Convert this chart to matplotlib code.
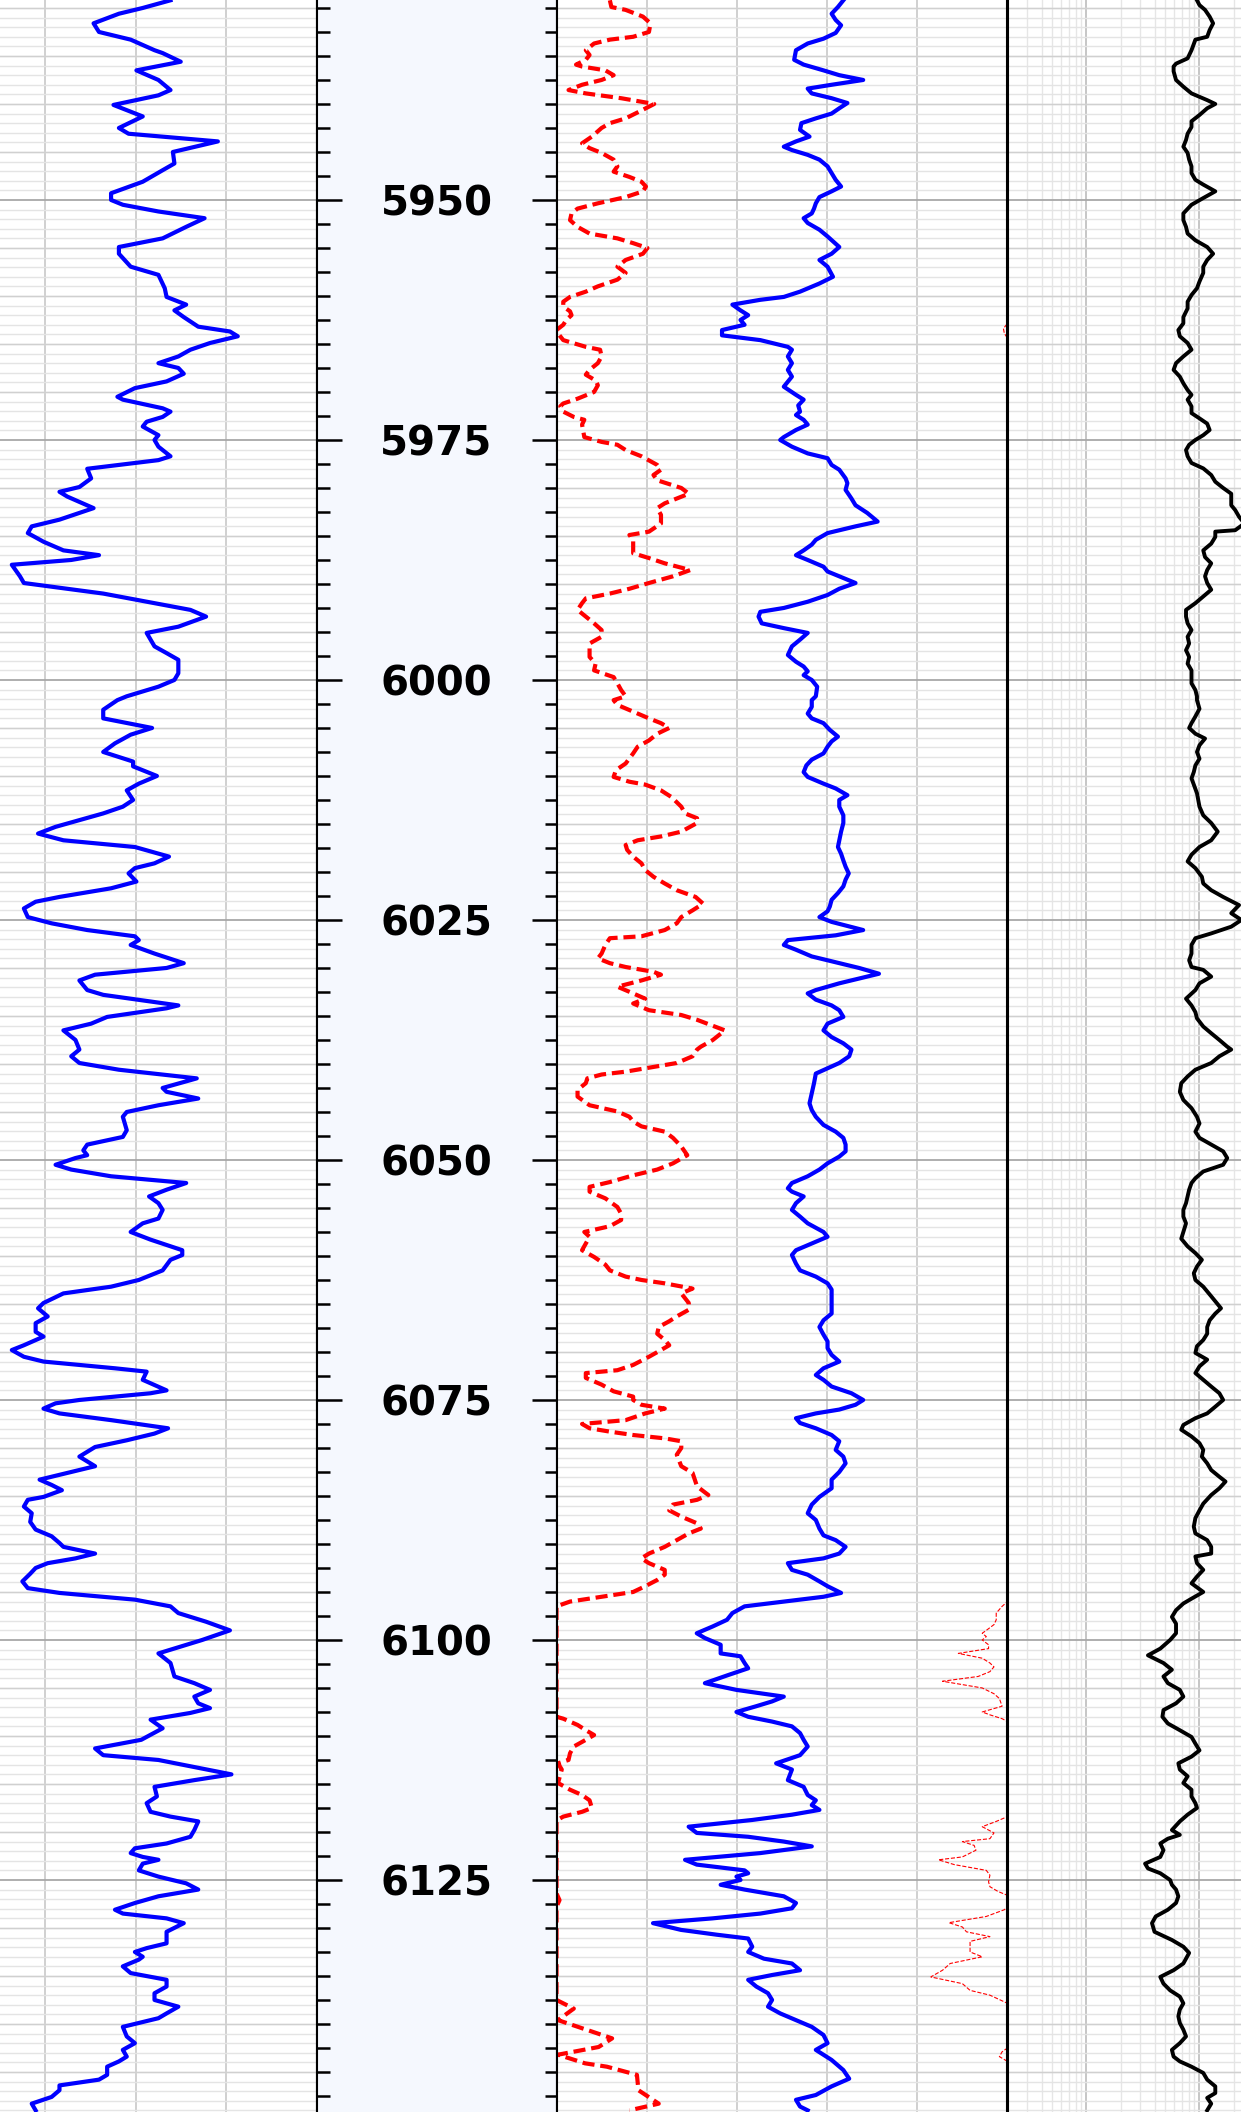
import numpy as np
import matplotlib
matplotlib.use("Agg")
import matplotlib.pyplot as plt
from matplotlib.ticker import MultipleLocator

# depth window shown in the picture
top_depth = 5929.17
base_depth = 6149.17
depth_labels = [5950, 5975, 6000, 6025, 6050, 6075, 6100, 6125]

# (depth, GR) - track 1
gr_log = [
    (5929.2, 101.6), (5930.0, 92.4), (5930.6, 84.5), (5931.6, 76.1), (5932.5, 77.9), (5933.3, 88.4),
    (5934.4, 96.3), (5934.7, 99.0), (5935.6, 105.0), (5936.5, 90.3), (5937.5, 97.6), (5938.55, 101.6),
    (5939.1, 97.6), (5940.1, 82.7), (5941.3, 92.4), (5942.5, 84.5), (5943.1, 87.7), (5943.9, 117.3),
    (5945.0, 102.4), (5946.2, 102.9), (5946.9, 99.0), (5948.1, 92.4), (5949.3, 81.9), (5950.0, 81.9),
    (5950.5, 85.8), (5951.2, 97.6), (5951.9, 112.9), (5952.8, 106.8), (5954.0, 99.0), (5954.9, 84.5),
    (5955.6, 84.5), (5956.95, 88.4), (5957.8, 97.6), (5959.2, 99.7), (5960.1, 100.3), (5960.9, 106.8),
    (5961.5, 102.9), (5962.2, 106.0), (5963.2, 110.8), (5963.7, 121.3), (5964.2, 123.9), (5964.9, 114.7),
    (5965.6, 108.2), (5966.3, 104.2), (5967.0, 97.6), (5967.5, 104.2), (5968.1, 106.0), (5968.9, 100.3),
    (5969.6, 89.8), (5970.5, 84.0), (5970.8, 85.8), (5971.7, 99.0), (5972.05, 101.6), (5972.6, 99.0),
    (5973.1, 93.7), (5973.6, 92.4), (5974.5, 97.6), (5975.0, 96.3), (5975.7, 97.6), (5976.7, 101.6),
    (5977.1, 97.6), (5978.0, 74.0), (5979.0, 75.3), (5979.9, 71.4), (5980.4, 64.8), (5980.9, 67.4),
    (5982.1, 76.1), (5982.6, 71.4), (5983.3, 64.8), (5984.0, 55.6), (5984.7, 54.3), (5985.6, 59.5),
    (5986.5, 66.1), (5987.0, 77.9), (5987.5, 68.7), (5988.0, 49.0), (5989.2, 51.7), (5989.9, 53.0),
    (5991.0, 79.3), (5992.0, 96.3), (5992.7, 108.2), (5993.4, 113.4), (5994.45, 104.2), (5995.1, 93.7),
    (5995.8, 95.0), (5996.5, 96.3), (5997.2, 100.3), (5997.9, 104.2), (5999.3, 104.2), (6000.0, 102.9),
    (6000.7, 97.6), (6001.7, 87.1), (6002.1, 84.0), (6003.1, 79.3), (6004.0, 79.3), (6005.0, 95.5),
    (6005.7, 88.4), (6006.6, 83.2), (6007.5, 79.3), (6008.5, 89.2), (6009.0, 89.2), (6010.0, 97.1),
    (6010.8, 91.1), (6011.5, 87.1), (6012.5, 89.2), (6013.2, 85.8), (6013.9, 79.3), (6014.6, 71.4),
    (6015.3, 63.5), (6016.0, 57.7), (6016.7, 66.1), (6017.4, 89.8), (6018.4, 101.1), (6019.1, 96.3),
    (6019.6, 89.8), (6020.15, 87.7), (6021.0, 90.3), (6021.7, 81.9), (6022.6, 64.8), (6023.1, 56.9),
    (6023.8, 53.0), (6024.7, 54.3), (6025.35, 62.2), (6026.05, 74.0), (6026.7, 89.8), (6027.1, 91.1),
    (6027.6, 88.4), (6028.5, 96.3), (6029.5, 106.0), (6030.0, 100.3), (6030.7, 76.6), (6031.3, 71.4),
    (6032.3, 74.0), (6032.8, 79.3), (6033.9, 104.2), (6034.2, 100.3), (6035.1, 80.6), (6035.8, 75.3),
    (6036.5, 66.1), (6037.5, 70.1), (6038.5, 71.4), (6039.2, 68.7), (6039.9, 71.4), (6040.6, 84.5),
    (6041.5, 110.3), (6042.5, 99.0), (6042.9, 100.3), (6043.6, 110.8), (6044.3, 97.6), (6045.0, 87.1),
    (6045.5, 85.8), (6046.9, 87.1), (6047.6, 85.8), (6048.4, 74.0), (6049.0, 72.7), (6049.5, 74.0),
    (6049.8, 70.1), (6050.5, 63.5), (6051.0, 68.7), (6051.7, 81.9), (6052.4, 106.8), (6053.1, 100.3),
    (6053.8, 94.5), (6054.5, 97.6), (6055.2, 99.0), (6056.1, 97.6), (6056.6, 92.4), (6057.5, 88.4),
    (6058.3, 95.0), (6059.4, 105.5), (6059.9, 105.5), (6060.4, 101.6), (6061.5, 99.0), (6062.5, 91.1),
    (6063.2, 81.9), (6063.9, 66.1), (6064.9, 59.5), (6065.45, 57.7), (6066.3, 60.9), (6067.0, 56.9),
    (6067.9, 56.9), (6068.4, 59.5), (6069.3, 53.0), (6069.8, 49.0), (6070.5, 53.0), (6071.0, 59.5),
    (6071.7, 83.2), (6072.05, 93.7), (6072.9, 92.4), (6074.0, 100.3), (6074.3, 95.0), (6075.0, 71.4),
    (6075.35, 63.5), (6075.9, 59.5), (6076.4, 64.8), (6077.1, 81.9), (6077.95, 100.8), (6078.5, 96.3),
    (6079.2, 87.1), (6079.9, 76.6), (6080.9, 71.4), (6081.4, 74.0), (6081.9, 76.6), (6082.5, 68.7),
    (6083.3, 58.2), (6083.85, 62.2), (6084.4, 65.6), (6085.1, 59.5), (6085.4, 54.3), (6086.1, 53.0),
    (6086.8, 55.6), (6087.7, 55.1), (6088.5, 56.9), (6089.2, 62.2), (6089.9, 64.8), (6090.3, 66.1),
    (6091.0, 76.6), (6091.5, 70.1), (6092.0, 60.9), (6092.5, 56.9), (6093.1, 55.1), (6093.9, 52.5),
    (6094.6, 54.3), (6095.1, 64.8), (6095.8, 89.8), (6096.5, 101.6), (6097.2, 104.2), (6098.1, 113.4),
    (6099.0, 121.3), (6100.0, 112.1), (6101.4, 97.6), (6102.4, 101.6), (6103.8, 102.9), (6104.5, 109.5),
    (6105.2, 114.7), (6105.9, 109.5), (6106.6, 110.8), (6107.1, 114.7), (6107.6, 108.2), (6108.3, 95.0),
    (6109.2, 99.0), (6110.4, 91.9), (6111.3, 76.6), (6112.0, 79.3), (6112.5, 97.6), (6114.0, 121.8),
    (6114.6, 109.5), (6115.3, 96.3), (6116.3, 97.1), (6117.0, 93.7), (6117.9, 95.0), (6118.4, 101.6),
    (6118.9, 110.8), (6119.8, 109.5), (6120.5, 108.2), (6121.2, 100.3), (6121.7, 89.8), (6122.2, 88.4),
    (6122.6, 92.4), (6122.9, 97.6), (6123.3, 92.4), (6124.0, 91.1), (6124.65, 97.6), (6125.35, 106.8),
    (6126.0, 110.8), (6126.7, 97.6), (6127.4, 89.8), (6128.1, 83.2), (6128.5, 85.8), (6129.0, 100.3),
    (6129.5, 106.0), (6130.4, 100.3), (6131.6, 100.3), (6132.1, 93.7), (6132.5, 89.8), (6133.0, 92.4),
    (6133.3, 91.1), (6134.0, 85.8), (6134.7, 88.4), (6135.4, 100.3), (6136.1, 100.3), (6136.8, 96.3),
    (6137.5, 96.3), (6138.2, 104.2), (6138.9, 100.3), (6139.4, 97.6), (6140.3, 85.8), (6141.3, 87.1),
    (6142.0, 89.8), (6142.7, 85.8), (6143.4, 87.1), (6143.9, 84.5), (6144.45, 80.6), (6145.3, 80.6),
    (6145.8, 77.9), (6146.4, 64.8), (6146.9, 64.8), (6147.6, 62.2), (6148.3, 55.6), (6149.0, 56.9),
]

# (depth, NPHI) - track 3, thick red dashed, scale 0.45 .. -0.15
nphi_log = [
    (5929.2, .379), (5929.9, .377), (5930.2, .358), (5930.9, .335), (5931.6, .325), (5932.5, .327),
    (5933.0, .348), (5933.3, .379), (5933.7, .400), (5934.4, .411), (5934.9, .406), (5935.4, .411),
    (5935.9, .424), (5936.1, .416), (5936.5, .385), (5937.0, .374), (5937.5, .390), (5938.0, .416),
    (5938.55, .434), (5938.9, .411), (5939.4, .364), (5940.0, .320), (5940.6, .335), (5941.5, .358),
    (5942.0, .379), (5942.5, .390), (5943.4, .403), (5944.1, .416), (5944.6, .406), (5945.1, .390),
    (5945.8, .374), (5946.5, .369), (5947.05, .374), (5947.6, .353), (5948.1, .337), (5948.6, .331),
    (5949.1, .335), (5949.7, .358), (5950.35, .395), (5950.9, .422), (5951.4, .430), (5952.1, .432),
    (5952.8, .422), (5953.5, .406), (5954.0, .369), (5954.5, .348), (5955.0, .329), (5955.6, .335),
    (5956.25, .358), (5956.95, .369), (5957.6, .358), (5958.3, .369), (5959.0, .395), (5959.55, .411),
    (5960.1, .432), (5960.6, .441), (5961.1, .441), (5961.6, .432), (5962.0, .430), (5962.5, .437),
    (5963.0, .441), (5963.55, .450), (5963.9, .448), (5964.6, .441), (5965.3, .411), (5965.6, .392),
    (5966.3, .390), (5967.0, .395), (5967.7, .406), (5968.2, .411), (5968.8, .398), (5969.3, .395),
    (5970.0, .400), (5970.7, .422), (5971.2, .441), (5971.5, .445), (5972.05, .441), (5972.6, .427),
    (5972.9, .413), (5973.4, .416), (5974.7, .413), (5975.2, .390), (5975.5, .369), (5976.05, .358),
    (5976.7, .337), (5977.6, .316), (5978.1, .311), (5978.65, .321), (5979.2, .316), (5980.0, .284),
    (5980.6, .274), (5981.1, .290), (5981.6, .306), (5982.1, .316), (5982.8, .311), (5983.7, .311),
    (5984.55, .327), (5984.9, .353), (5985.4, .348), (5986.8, .348), (5987.3, .327), (5987.85, .306),
    (5988.55, .272), (5989.2, .295), (5989.9, .327), (5990.5, .353), (5991.0, .379), (5991.5, .411),
    (5992.0, .416), (5992.7, .422), (5993.4, .411), (5994.1, .400), (5994.8, .390), (5995.5, .390),
    (5996.2, .406), (5997.6, .406), (5998.3, .398), (5999.0, .400), (5999.7, .374), (6000.35, .369),
    (6001.05, .364), (6001.7, .358), (6002.1, .374), (6002.6, .369), (6003.3, .348), (6004.0, .327),
    (6004.5, .311), (6005.0, .300), (6005.6, .316), (6006.3, .327), (6006.95, .342), (6007.65, .348),
    (6008.7, .358), (6009.4, .371), (6010.1, .374), (6010.6, .353), (6010.9, .332), (6011.5, .311),
    (6012.2, .297), (6013.2, .284), (6013.9, .279), (6014.4, .263), (6014.9, .263), (6015.8, .284),
    (6016.3, .311), (6016.7, .342), (6017.2, .358), (6017.7, .356), (6018.4, .348), (6019.1, .337),
    (6019.8, .332), (6020.5, .321), (6021.2, .306), (6021.9, .290), (6022.6, .265), (6023.3, .255),
    (6024.0, .269), (6024.7, .284), (6025.35, .290), (6026.05, .306), (6026.7, .337), (6026.9, .379),
    (6027.6, .385), (6028.5, .390), (6029.0, .395), (6029.5, .379), (6029.9, .358), (6030.4, .321),
    (6030.7, .311), (6031.3, .337), (6031.95, .369), (6032.65, .348), (6033.2, .332), (6033.7, .348),
    (6034.4, .327), (6034.9, .284), (6035.4, .263), (6036.5, .226), (6037.5, .242), (6038.2, .258),
    (6038.5, .263), (6039.2, .269), (6039.9, .290), (6040.45, .332), (6040.8, .358), (6041.1, .390),
    (6041.5, .409), (6042.0, .411), (6042.7, .422), (6043.4, .422), (6044.3, .406), (6044.95, .369),
    (6045.5, .353), (6046.0, .348), (6046.5, .337), (6047.05, .306), (6047.7, .295), (6048.6, .284),
    (6049.5, .276), (6050.35, .295), (6051.0, .316), (6051.6, .348), (6052.3, .379), (6052.8, .406),
    (6053.3, .406), (6054.0, .385), (6054.9, .369), (6055.6, .364), (6056.25, .364), (6056.9, .379),
    (6057.5, .413), (6058.0, .406), (6058.7, .411), (6059.4, .416), (6060.1, .400), (6060.9, .385),
    (6061.5, .379), (6062.15, .358), (6062.5, .337), (6062.85, .306), (6063.4, .269), (6063.9, .284),
    (6064.9, .274), (6065.6, .274), (6066.3, .290), (6066.8, .300), (6067.4, .314), (6068.1, .316),
    (6068.75, .306), (6069.3, .300), (6069.8, .311), (6070.5, .327), (6071.35, .348), (6071.9, .369),
    (6072.2, .411), (6072.7, .411), (6073.4, .390), (6074.1, .374), (6074.65, .348), (6075.0, .348),
    (6075.5, .337), (6075.9, .306), (6076.4, .332), (6077.1, .358), (6077.5, .416), (6077.95, .406),
    (6078.3, .379), (6078.65, .348), (6079.0, .306), (6079.3, .284), (6080.0, .284), (6080.7, .290),
    (6081.9, .284), (6082.6, .269), (6084.0, .263), (6084.9, .248), (6085.4, .263), (6085.9, .295),
    (6086.5, .300), (6087.15, .284), (6087.85, .263), (6088.4, .258), (6088.9, .274), (6089.6, .290),
    (6090.3, .306), (6091.0, .327), (6091.5, .337), (6092.0, .327), (6092.7, .306), (6093.2, .306),
    (6093.75, .316), (6094.4, .332), (6095.0, .348), (6095.5, .390), (6096.0, .432), (6096.5, .450),
    (6108.0, .450), (6108.2, .441), (6108.85, .422), (6109.4, .411), (6109.9, .400), (6110.4, .411),
    (6111.1, .427), (6111.8, .432), (6112.5, .434), (6112.85, .448), (6113.5, .443), (6114.9, .448),
    (6115.6, .432), (6116.15, .416), (6116.7, .406), (6117.5, .403), (6117.9, .416), (6118.4, .441),
    (6118.8, .450), (6126.4, .450), (6127.1, .446), (6127.8, .450), (6137.5, .450), (6138.4, .427),
    (6139.6, .448), (6141.5, .376), (6142.4, .394), (6143.2, .448), (6144.1, .412), (6144.45, .383),
    (6145.3, .343), (6146.9, .341), (6148.3, .314), (6149.0, .353),
]

# (depth, RHOB) - track 3, blue, scale 1.95 .. 2.95
rhob_log = [
    (5929.2, 2.586), (5929.9, 2.574), (5930.6, 2.560), (5931.25, 2.569), (5931.8, 2.581), (5932.6, 2.569),
    (5933.2, 2.542), (5933.7, 2.507), (5934.4, 2.481), (5935.4, 2.477), (5935.9, 2.498), (5936.5, 2.542),
    (5937.0, 2.577), (5937.5, 2.630), (5938.0, 2.560), (5938.4, 2.507), (5938.9, 2.516), (5939.4, 2.560),
    (5939.9, 2.595), (5940.45, 2.577), (5941.0, 2.560), (5941.5, 2.525), (5942.0, 2.493), (5942.7, 2.490),
    (5943.4, 2.511), (5943.9, 2.481), (5944.45, 2.454), (5944.8, 2.472), (5945.3, 2.507), (5945.8, 2.533),
    (5946.5, 2.551), (5947.2, 2.560), (5947.9, 2.569), (5948.6, 2.581), (5949.1, 2.560), (5949.7, 2.533),
    (5950.35, 2.525), (5950.9, 2.521), (5951.4, 2.516), (5951.9, 2.498), (5952.4, 2.507), (5953.1, 2.533),
    (5953.8, 2.551), (5954.9, 2.577), (5955.6, 2.560), (5956.25, 2.533), (5956.95, 2.551), (5958.0, 2.563),
    (5958.7, 2.533), (5959.55, 2.490), (5960.1, 2.454), (5960.4, 2.402), (5960.9, 2.340), (5961.5, 2.358),
    (5962.0, 2.375), (5962.5, 2.358), (5963.0, 2.367), (5963.55, 2.317), (5964.1, 2.317), (5964.6, 2.402),
    (5965.3, 2.463), (5965.6, 2.472), (5966.3, 2.463), (5967.0, 2.472), (5967.7, 2.463), (5968.4, 2.472),
    (5969.45, 2.454), (5970.3, 2.481), (5970.8, 2.498), (5971.4, 2.486), (5972.05, 2.490), (5972.4, 2.481),
    (5972.9, 2.498), (5973.4, 2.507), (5973.96, 2.481), (5974.7, 2.454), (5975.0, 2.446), (5975.7, 2.472),
    (5976.4, 2.507), (5976.9, 2.551), (5977.6, 2.560), (5978.1, 2.577), (5979.0, 2.591), (5979.5, 2.595),
    (5980.2, 2.591), (5981.1, 2.604), (5981.8, 2.613), (5982.6, 2.639), (5983.5, 2.662), (5984.0, 2.613),
    (5984.7, 2.551), (5985.4, 2.525), (5985.9, 2.516), (5986.5, 2.498), (5987.0, 2.481), (5987.5, 2.507),
    (5988.2, 2.542), (5988.7, 2.551), (5989.2, 2.577), (5989.9, 2.613), (5990.5, 2.577), (5991.15, 2.551),
    (5991.85, 2.507), (5992.5, 2.454), (5992.9, 2.402), (5993.4, 2.398), (5994.1, 2.405), (5994.6, 2.454),
    (5995.1, 2.507), (5995.8, 2.490), (5996.5, 2.472), (5997.4, 2.463), (5998.1, 2.481), (5998.6, 2.498),
    (5999.1, 2.507), (5999.5, 2.498), (6000.0, 2.516), (6000.7, 2.528), (6001.7, 2.525), (6002.1, 2.516),
    (6002.8, 2.516), (6003.5, 2.507), (6004.0, 2.516), (6004.5, 2.542), (6005.2, 2.556), (6005.9, 2.574),
    (6006.4, 2.560), (6006.95, 2.551), (6007.65, 2.542), (6008.3, 2.516), (6008.9, 2.504), (6009.6, 2.498),
    (6010.1, 2.507), (6010.8, 2.542), (6011.3, 2.569), (6012.0, 2.595), (6012.5, 2.577), (6013.2, 2.577),
    (6014.1, 2.586), (6014.9, 2.586), (6015.8, 2.581), (6016.7, 2.577), (6017.4, 2.574), (6018.1, 2.581),
    (6018.8, 2.586), (6019.45, 2.591), (6020.15, 2.598), (6020.8, 2.591), (6021.5, 2.586), (6022.2, 2.574),
    (6022.9, 2.560), (6023.6, 2.556), (6024.1, 2.551), (6024.7, 2.533), (6025.2, 2.560), (6026.05, 2.630),
    (6026.6, 2.569), (6027.1, 2.463), (6027.6, 2.454), (6028.1, 2.481), (6028.8, 2.516), (6029.5, 2.577),
    (6030.0, 2.621), (6030.6, 2.665), (6031.1, 2.621), (6031.6, 2.577), (6032.3, 2.525), (6032.65, 2.507),
    (6033.3, 2.525), (6033.9, 2.560), (6034.4, 2.577), (6035.1, 2.586), (6035.8, 2.551), (6036.5, 2.542),
    (6037.2, 2.560), (6037.85, 2.586), (6038.5, 2.604), (6039.2, 2.599), (6039.9, 2.577), (6040.45, 2.551),
    (6041.0, 2.525), (6042.0, 2.521), (6043.05, 2.516), (6044.1, 2.511), (6044.8, 2.516), (6045.5, 2.525),
    (6046.35, 2.542), (6047.05, 2.569), (6047.7, 2.586), (6048.4, 2.591), (6049.1, 2.591), (6049.65, 2.577),
    (6050.35, 2.551), (6051.0, 2.533), (6051.7, 2.507), (6052.4, 2.472), (6052.95, 2.463), (6053.3, 2.472),
    (6053.8, 2.498), (6054.5, 2.481), (6055.2, 2.472), (6055.9, 2.490), (6056.6, 2.507), (6057.5, 2.542),
    (6058.0, 2.551), (6058.7, 2.516), (6059.4, 2.481), (6059.9, 2.472), (6060.8, 2.481), (6061.5, 2.490),
    (6062.15, 2.525), (6062.85, 2.551), (6063.5, 2.560), (6066.0, 2.560), (6066.7, 2.542), (6067.4, 2.533),
    (6068.2, 2.542), (6068.9, 2.551), (6069.6, 2.551), (6070.3, 2.560), (6071.0, 2.577), (6071.7, 2.542),
    (6072.4, 2.525), (6072.9, 2.542), (6073.6, 2.560), (6074.3, 2.604), (6075.0, 2.630), (6075.5, 2.613),
    (6076.0, 2.577), (6076.4, 2.525), (6076.9, 2.481), (6077.4, 2.490), (6077.95, 2.525), (6078.65, 2.560),
    (6079.3, 2.577), (6080.2, 2.569), (6080.9, 2.586), (6081.6, 2.591), (6082.5, 2.577), (6083.3, 2.560),
    (6084.2, 2.560), (6085.1, 2.533), (6085.9, 2.516), (6086.8, 2.507), (6087.5, 2.525), (6088.4, 2.533),
    (6089.1, 2.542), (6089.6, 2.569), (6090.3, 2.591), (6091.0, 2.577), (6091.5, 2.542), (6092.0, 2.463),
    (6092.7, 2.472), (6093.2, 2.507), (6093.9, 2.533), (6094.4, 2.551), (6095.1, 2.581), (6095.5, 2.542),
    (6096.0, 2.454), (6096.5, 2.367), (6097.2, 2.340), (6097.9, 2.328), (6098.6, 2.296), (6099.3, 2.261),
    (6099.8, 2.279), (6100.5, 2.314), (6101.4, 2.314), (6101.7, 2.358), (6102.4, 2.367), (6102.95, 2.375),
    (6103.65, 2.331), (6104.5, 2.279), (6105.2, 2.349), (6105.6, 2.410), (6105.9, 2.454), (6106.4, 2.428),
    (6106.9, 2.393), (6107.5, 2.349), (6108.0, 2.375), (6108.5, 2.428), (6109.0, 2.472), (6109.7, 2.490),
    (6110.4, 2.498), (6111.1, 2.507), (6112.0, 2.490), (6112.85, 2.437), (6113.5, 2.472), (6114.6, 2.463),
    (6115.3, 2.498), (6116.15, 2.507), (6116.7, 2.525), (6117.2, 2.516), (6117.7, 2.533), (6118.2, 2.472),
    (6118.75, 2.384), (6119.45, 2.243), (6120.1, 2.261), (6120.5, 2.375), (6121.0, 2.454), (6121.5, 2.516),
    (6122.2, 2.402), (6122.9, 2.235), (6123.4, 2.261), (6124.0, 2.367), (6124.3, 2.375), (6124.65, 2.349),
    (6125.0, 2.358), (6125.5, 2.314), (6126.0, 2.367), (6126.7, 2.454), (6127.4, 2.481), (6127.95, 2.472),
    (6128.5, 2.402), (6129.0, 2.296), (6129.5, 2.164), (6130.2, 2.226), (6130.7, 2.305), (6131.1, 2.375),
    (6131.95, 2.384), (6132.5, 2.375), (6133.2, 2.410), (6133.7, 2.472), (6134.4, 2.490), (6134.9, 2.428),
    (6135.4, 2.375), (6136.1, 2.393), (6136.8, 2.419), (6137.5, 2.428), (6138.2, 2.419), (6138.9, 2.446),
    (6139.6, 2.481), (6140.3, 2.516), (6141.15, 2.542), (6142.0, 2.551), (6142.7, 2.525), (6143.75, 2.560),
    (6144.8, 2.586), (6145.7, 2.599), (6146.5, 2.560), (6147.4, 2.525), (6147.9, 2.481), (6148.6, 2.490),
    (6149.0, 2.507),
]

# (depth, PEF) - track 3, thin red dashed, scale 0 .. 10 (pinned at 10 when off scale)
pef_log = [
    (5929.2, 10.0), (5962.85, 10.0), (5963.4, 9.91), (5963.9, 9.93), (5964.4, 10.0), (6096.0, 10.0),
    (6096.5, 9.88), (6097.2, 9.75), (6097.9, 9.75), (6098.4, 9.70), (6099.0, 9.53), (6099.3, 9.44),
    (6099.65, 9.53), (6100.0, 9.44), (6100.5, 9.58), (6100.9, 9.58), (6101.4, 8.91), (6101.9, 9.44),
    (6102.4, 9.61), (6102.8, 9.70), (6103.3, 9.61), (6103.8, 9.35), (6104.3, 8.56), (6105.0, 9.44),
    (6105.6, 9.70), (6106.1, 9.82), (6106.9, 9.88), (6107.5, 9.44), (6107.8, 9.61), (6108.2, 9.88),
    (6108.5, 10.0), (6118.4, 10.0), (6118.9, 9.75), (6119.45, 9.44), (6120.1, 9.70), (6120.7, 9.61),
    (6121.0, 9.00), (6121.4, 9.26), (6121.9, 9.30), (6122.6, 9.00), (6122.9, 8.47), (6123.4, 8.82),
    (6124.0, 9.53), (6124.5, 9.61), (6125.2, 9.58), (6125.7, 9.61), (6126.2, 9.79), (6126.6, 10.0),
    (6127.8, 10.0), (6128.1, 9.93), (6128.8, 9.53), (6129.45, 8.70), (6129.9, 9.00), (6130.4, 9.09),
    (6130.9, 9.61), (6131.4, 9.17), (6132.0, 9.17), (6132.5, 9.17), (6133.0, 9.44), (6133.7, 8.73),
    (6134.4, 8.56), (6135.1, 8.30), (6135.8, 9.00), (6136.5, 9.17), (6137.0, 9.61), (6137.85, 10.0),
    (6142.5, 10.0), (6142.9, 9.88), (6143.4, 9.82), (6143.9, 10.0), (6149.2, 10.0),
]

# (depth, RES) - track 4, black, log scale 0.2 .. 2000
res_log = [
    (5929.2, 9.5), (5929.7, 10.0), (5930.2, 11.2), (5930.9, 12.3), (5931.6, 13.2), (5932.3, 12.3),
    (5933.0, 11.7), (5933.3, 9.2), (5934.4, 8.5), (5935.25, 7.85), (5935.8, 6.2), (5936.1, 5.9),
    (5936.6, 5.9), (5937.5, 6.2), (5938.2, 7.2), (5938.9, 8.5), (5939.6, 11.7), (5940.0, 13.8),
    (5940.45, 11.7), (5941.15, 10.0), (5941.8, 8.5), (5942.4, 8.5), (5943.1, 7.85), (5943.75, 7.6),
    (5944.45, 7.2), (5945.1, 7.85), (5945.8, 8.1), (5946.5, 8.5), (5947.2, 8.5), (5947.9, 9.2),
    (5948.4, 10.8), (5949.1, 13.8), (5949.8, 10.8), (5950.5, 8.5), (5951.4, 7.2), (5952.1, 7.2),
    (5952.8, 7.6), (5953.5, 7.85), (5954.2, 9.2), (5954.9, 11.7), (5955.6, 13.2), (5956.25, 11.7),
    (5956.95, 10.8), (5957.6, 10.8), (5958.5, 10.0), (5959.2, 9.5), (5959.9, 8.5), (5960.6, 7.85),
    (5961.3, 7.85), (5962.2, 7.2), (5962.85, 7.2), (5963.55, 6.5), (5964.2, 6.7), (5964.9, 7.85),
    (5965.6, 8.5), (5966.3, 7.2), (5967.0, 6.2), (5967.7, 5.9), (5968.4, 6.7), (5969.1, 7.2),
    (5969.8, 7.85), (5970.3, 8.5), (5970.8, 7.85), (5971.5, 8.5), (5972.2, 8.5), (5972.75, 10.0),
    (5973.3, 11.7), (5973.96, 12.3), (5974.5, 10.8), (5975.0, 9.2), (5975.5, 8.1), (5976.05, 7.6),
    (5976.7, 7.85), (5977.4, 8.5), (5977.96, 10.8), (5978.65, 12.7), (5979.35, 13.8), (5980.0, 16.2),
    (5980.6, 19.1), (5981.8, 19.1), (5982.3, 20.7), (5983.0, 22.4), (5983.7, 25.0), (5984.4, 20.7),
    (5984.55, 13.8), (5985.1, 13.8), (5985.8, 12.7), (5986.5, 10.8), (5987.2, 11.2), (5987.85, 12.7),
    (5988.55, 11.7), (5989.2, 11.2), (5989.9, 11.7), (5990.6, 12.7), (5991.3, 10.8), (5992.0, 9.2),
    (5992.7, 7.6), (5993.4, 7.6), (5994.1, 7.85), (5994.8, 8.5), (5995.5, 7.85), (5996.2, 8.1),
    (5996.9, 7.6), (5997.6, 8.1), (5998.3, 7.85), (5999.0, 8.5), (6000.35, 8.5), (6001.05, 9.2),
    (6001.7, 9.5), (6002.1, 9.5), (6003.0, 10.0), (6003.8, 9.2), (6004.5, 8.5), (6005.0, 8.1),
    (6005.6, 9.2), (6006.1, 11.2), (6006.8, 10.0), (6007.5, 9.5), (6008.2, 10.0), (6008.9, 9.2),
    (6009.6, 8.9), (6010.25, 8.5), (6010.9, 8.9), (6011.8, 9.5), (6013.2, 10.0), (6014.1, 10.8),
    (6014.9, 12.7), (6015.8, 14.5), (6016.7, 12.7), (6017.4, 10.0), (6018.2, 8.5), (6018.9, 7.85),
    (6019.6, 9.2), (6020.5, 10.5), (6021.2, 10.8), (6021.9, 12.7), (6022.6, 16.2), (6023.45, 22.4),
    (6024.3, 19.1), (6025.0, 23.5), (6025.7, 19.1), (6026.4, 12.7), (6026.9, 9.2), (6027.6, 8.5),
    (6028.5, 8.5), (6029.2, 8.1), (6029.9, 8.5), (6030.2, 10.8), (6030.9, 12.7), (6031.6, 10.0),
    (6032.3, 9.2), (6033.2, 7.6), (6033.9, 8.5), (6034.6, 9.2), (6035.25, 9.5), (6036.1, 10.8),
    (6036.8, 12.7), (6037.5, 15.0), (6038.2, 17.6), (6038.5, 19.1), (6039.2, 15.0), (6039.9, 12.7),
    (6040.6, 9.2), (6041.3, 7.85), (6042.0, 6.9), (6042.9, 6.7), (6043.75, 7.2), (6044.6, 8.5),
    (6045.5, 9.5), (6046.2, 10.0), (6047.05, 9.2), (6047.7, 10.0), (6048.4, 12.7), (6049.1, 16.2),
    (6049.8, 17.6), (6050.5, 16.2), (6051.2, 10.8), (6051.9, 9.2), (6052.4, 8.5), (6053.1, 8.1),
    (6053.8, 7.85), (6054.5, 7.6), (6055.2, 7.2), (6055.9, 7.2), (6056.6, 7.6), (6057.5, 7.2),
    (6058.2, 6.9), (6059.0, 7.85), (6059.7, 9.2), (6060.4, 10.5), (6061.1, 9.5), (6061.8, 8.9),
    (6062.5, 9.2), (6063.2, 10.8), (6064.2, 12.7), (6065.45, 15.5), (6066.0, 13.8), (6066.7, 12.3),
    (6067.4, 11.7), (6068.1, 11.7), (6068.75, 10.8), (6069.4, 9.5), (6070.1, 9.2), (6070.8, 11.7),
    (6071.5, 10.0), (6072.2, 9.2), (6072.9, 10.8), (6073.6, 12.7), (6074.3, 15.0), (6075.0, 16.2),
    (6075.7, 13.8), (6076.4, 11.7), (6076.9, 9.2), (6077.6, 7.2), (6078.1, 6.9), (6078.8, 8.5),
    (6079.5, 10.0), (6080.2, 10.8), (6080.9, 10.5), (6081.6, 11.7), (6082.3, 12.7), (6083.0, 15.0),
    (6083.5, 17.0), (6084.2, 15.0), (6084.9, 12.7), (6085.8, 10.8), (6086.5, 10.0), (6087.3, 9.2),
    (6088.2, 8.9), (6088.9, 9.2), (6089.6, 11.7), (6090.3, 12.7), (6091.0, 12.7), (6091.3, 9.2),
    (6092.0, 9.5), (6092.7, 10.8), (6093.4, 9.5), (6094.1, 8.5), (6095.0, 10.8), (6095.7, 8.5),
    (6096.2, 7.2), (6096.9, 6.2), (6097.6, 5.7), (6098.3, 6.2), (6099.3, 6.2), (6100.0, 5.5),
    (6100.9, 4.5), (6101.6, 3.5), (6102.4, 4.8), (6103.1, 5.7), (6103.8, 4.8), (6104.5, 5.25),
    (6105.2, 6.7), (6105.9, 7.2), (6106.6, 6.2), (6107.3, 4.8), (6108.0, 4.7), (6108.7, 5.25),
    (6109.4, 6.7), (6110.1, 8.5), (6110.8, 9.2), (6111.5, 10.0), (6112.15, 8.5), (6112.85, 6.5),
    (6113.5, 6.7), (6114.2, 7.85), (6114.9, 7.2), (6115.6, 8.5), (6116.3, 8.5), (6117.0, 9.2),
    (6117.5, 9.5), (6118.2, 7.85), (6118.9, 6.7), (6119.8, 5.7), (6120.3, 6.7), (6120.7, 5.25),
    (6121.2, 4.5), (6121.9, 4.8), (6122.6, 4.5), (6123.3, 3.3), (6123.8, 3.5), (6124.3, 4.5),
    (6125.0, 5.5), (6125.5, 5.7), (6126.0, 6.2), (6126.7, 6.5), (6127.4, 6.2), (6128.1, 5.25),
    (6128.8, 4.1), (6129.5, 3.8), (6130.4, 4.0), (6131.25, 5.7), (6131.95, 7.2), (6132.6, 8.1),
    (6133.7, 7.2), (6134.4, 5.9), (6135.1, 4.5), (6135.8, 4.8), (6136.5, 5.5), (6137.15, 6.7),
    (6137.85, 7.2), (6138.5, 6.7), (6139.2, 6.5), (6139.9, 6.7), (6140.6, 7.2), (6141.3, 7.6),
    (6142.0, 6.7), (6142.7, 5.7), (6143.4, 5.9), (6143.9, 6.7), (6144.45, 8.5), (6145.1, 10.8),
    (6145.8, 11.7), (6146.5, 13.8), (6147.2, 13.8), (6147.7, 11.7), (6148.3, 12.7), (6149.0, 11.7),
]

gr_depth, gr = np.array(gr_log).T
nphi_depth, nphi = np.array(nphi_log).T
rhob_depth, rhob = np.array(rhob_log).T
pef_depth, pef = np.array(pef_log).T
res_depth, res = np.array(res_log).T

# ---- figure: the picture is a crop, so the outer tracks run past the edges
W = 1241.0
fig = plt.figure(figsize=(12.41, 21.12), dpi=100)


def box(x0, x1):
    return [x0 / W, 0.0, (x1 - x0) / W, 1.0]


def depth_grid(ax):
    ax.set_ylim(base_depth, top_depth)
    ax.yaxis.set_major_locator(MultipleLocator(25))
    ax.yaxis.set_minor_locator(MultipleLocator(1))
    ax.grid(which="major", axis="y", color="#a8a8a8", lw=1.3)
    ax.grid(which="minor", axis="y", color="#e4e4e4", lw=1.0)
    for d in np.arange(5930, 6150, 5):
        if d % 25:
            ax.axhline(d, color="#d0d0d0", lw=1.0, zorder=0.6)
    ax.set_axisbelow(True)
    ax.tick_params(which="both", length=0, labelleft=False, labelbottom=False,
                   labeltop=False, top=False, bottom=False, left=False)
    ax.spines["top"].set_visible(False)
    ax.spines["bottom"].set_visible(False)
    for s in ("left", "right"):
        ax.spines[s].set_color("black")
        ax.spines[s].set_linewidth(1.5)


# track 1 : GR
ax1 = fig.add_axes(box(-136, 316.5))
ax1.set_xlim(0, 150)
ax1.xaxis.set_major_locator(MultipleLocator(30))
ax1.grid(which="major", axis="x", color="#c8c8c8", lw=1.2)
depth_grid(ax1)
ax1.plot(gr, gr_depth, color="blue", lw=3.0)

# depth track
axd = fig.add_axes(box(316.5, 556.5))
axd.set_facecolor("#f5f8fe")
axd.set_xlim(0, 1)
axd.set_ylim(base_depth, top_depth)
axd.set_xticks([])
axd.yaxis.set_major_locator(MultipleLocator(25))
axd.yaxis.set_minor_locator(MultipleLocator(2.5))
axd.tick_params(axis="y", which="both", direction="in", left=True, right=True,
                labelleft=False, width=1.8, color="black")
axd.tick_params(axis="y", which="major", length=18)
axd.tick_params(axis="y", which="minor", length=9)
axd.spines["top"].set_visible(False)
axd.spines["bottom"].set_visible(False)
for s in ("left", "right"):
    axd.spines[s].set_linewidth(1.5)
for d in depth_labels:
    axd.text(0.5, d, str(d), ha="center", va="center_baseline", fontsize=29,
             fontweight="bold", family="DejaVu Sans")

# track 3 : RHOB + NPHI + PEF
ax3 = fig.add_axes(box(556.5, 1007.5))
ax3.set_xlim(1.95, 2.95)
ax3.set_xticks(np.linspace(1.95, 2.95, 6))
ax3.grid(which="major", axis="x", color="#c8c8c8", lw=1.2)
depth_grid(ax3)
ax3.plot(rhob, rhob_depth, color="blue", lw=3.0)

ax3n = ax3.twiny()
ax3n.set_xlim(0.45, -0.15)
ax3n.plot(nphi, nphi_depth, color="red", lw=3.0, ls="--", dashes=(2.9, 1.4))
ax3p = ax3.twiny()
ax3p.set_xlim(0, 10)
ax3p.plot(pef, pef_depth, color="red", lw=0.8, ls="--")
for a in (ax3n, ax3p):
    a.tick_params(which="both", top=False, labeltop=False, length=0)
    a.set_ylim(base_depth, top_depth)
for a in (ax3, ax3n):
    for s in a.spines.values():
        s.set_visible(False)
ax3p.spines["top"].set_visible(False)
ax3p.spines["bottom"].set_visible(False)
for s in ("left", "right"):
    ax3p.spines[s].set_color("black")
    ax3p.spines[s].set_linewidth(1.5)

# track 4 : resistivity (log)
ax4 = fig.add_axes(box(1007.5, 1459.5))
ax4.set_xscale("log")
ax4.set_xlim(0.2, 2000)
ax4.grid(which="major", axis="x", color="#bcbcbc", lw=1.2)
ax4.grid(which="minor", axis="x", color="#e6e6e6", lw=1.0)
depth_grid(ax4)
ax4.plot(res, res_depth, color="black", lw=2.8)

fig.savefig("out.png", dpi=100)
